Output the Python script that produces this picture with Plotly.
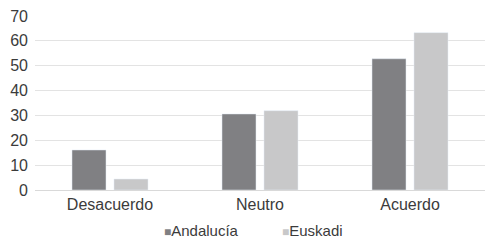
import plotly.graph_objects as go

categories = ["Desacuerdo", "Neutro", "Acuerdo"]
andalucia = [16.1, 30.6, 52.8]
euskadi = [4.4, 31.9, 63.3]
y_ticks = [0, 10, 20, 30, 40, 50, 60, 70]
series_names = ["Andalucía", "Euskadi"]
series_colors = ["#808083", "#c8c8c9"]

fig = go.Figure()
fig.add_trace(go.Bar(x=categories, y=andalucia, name=series_names[0], marker_color=series_colors[0]))
fig.add_trace(go.Bar(x=categories, y=euskadi, name=series_names[1], marker_color=series_colors[1]))

legend_x = [0.282, 0.545]
for name, col, lx in zip(series_names, series_colors, legend_x):
    fig.add_annotation(
        xref="paper", yref="paper", x=lx, y=-0.23, xanchor="left", yanchor="middle",
        showarrow=False,
        text=f"<span style='font-size:12px;color:{col}'>■</span>{name}",
        font=dict(size=15, color="#3b3b3b"),
    )

fig.update_layout(
    width=487, height=240,
    margin=dict(l=35, r=2, t=16, b=50),
    paper_bgcolor="white", plot_bgcolor="white",
    barmode="group", bargap=0.44, bargroupgap=0.19,
    font=dict(family="Liberation Sans, Arial, Helvetica, sans-serif", size=16, color="#3b3b3b"),
    showlegend=False,
    xaxis=dict(showgrid=False, ticks="", showline=True, linecolor="#d9d9d9", linewidth=1,
               tickfont=dict(size=16), automargin=False),
    yaxis=dict(range=[0, 70], tickvals=y_ticks, showgrid=True, gridcolor="#e3e3e3",
               gridwidth=1, zeroline=False, ticks="", tickfont=dict(size=16),
               ticklabelstandoff=6, automargin=False),
)
fig.write_html("out.html", config={"displayModeBar": False},
               post_script="document.body.style.margin='0';")
